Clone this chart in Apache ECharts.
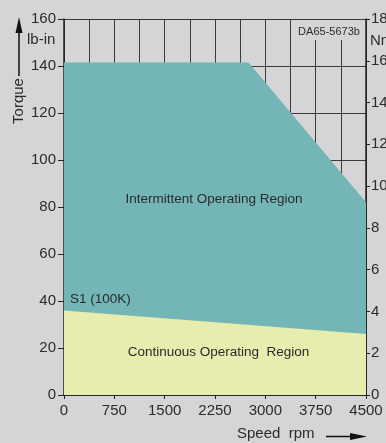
<!DOCTYPE html>
<html>
<head>
<meta charset="utf-8">
<script src="https://cdn.jsdelivr.net/npm/echarts@6/dist/echarts.min.js"></script>
<style>
  html, body { margin: 0; padding: 0; background: #d5d5d7; }
  #chart { width: 386px; height: 443px; }
</style>
</head>
<body>
<div id="chart"></div>
<script>
// Speed (rpm) / torque (lb-in) envelope of the drive
const intermittentSpeed = [0, 2750, 4500];
const intermittentTorque = [141.5, 141.5, 82];
const continuousSpeed = [0, 4500];
const continuousTorque = [36, 26];

// Axis ranges
const speedTicks = [0, 750, 1500, 2250, 3000, 3750, 4500];
const torqueTicksLbIn = [0, 20, 40, 60, 80, 100, 120, 140, 160];
const torqueTicksNm = [0, 2, 4, 6, 8, 10, 12, 14, 16, 18];

const FONT = '"Liberation Sans", Arial, sans-serif';
const TEXT = '#2b2b2b';
const BG = '#d5d5d7';

const pairs = (xs, ys) => xs.map((x, i) => [x, ys[i]]);

const chart = echarts.init(document.getElementById('chart'), null, { renderer: 'canvas' });

chart.setOption({
  backgroundColor: BG,
  animation: false,
  grid: { left: 64, right: 20, top: 19, bottom: 48, show: false, containLabel: false, outerBoundsMode: 'none' },
  xAxis: {
    type: 'value',
    min: speedTicks[0],
    max: speedTicks[speedTicks.length - 1],
    interval: speedTicks[1] - speedTicks[0],
    axisLine: { show: true, onZero: false, lineStyle: { color: '#222', width: 1.5 } },
    axisTick: { show: true, length: 4, lineStyle: { color: '#222' } },
    axisLabel: { color: TEXT, fontFamily: FONT, fontSize: 15, margin: 8, formatter: v => String(v) },
    splitLine: { show: true, lineStyle: { color: '#3a3a3a', width: 1 } },
    minorTick: { show: false, splitNumber: 2 },
    minorSplitLine: { show: true, lineStyle: { color: '#3a3a3a', width: 1 } }
  },
  yAxis: [
    {
      type: 'value',
      min: torqueTicksLbIn[0],
      max: torqueTicksLbIn[torqueTicksLbIn.length - 1],
      interval: torqueTicksLbIn[1] - torqueTicksLbIn[0],
      axisLine: { show: true, lineStyle: { color: '#222', width: 1.5 } },
      axisTick: { show: true, length: 6, lineStyle: { color: '#222' } },
      axisLabel: { color: TEXT, fontFamily: FONT, fontSize: 15, margin: 8, formatter: v => String(v) },
      splitLine: { show: true, lineStyle: { color: '#3a3a3a', width: 1 } }
    },
    {
      type: 'value',
      position: 'right',
      min: torqueTicksNm[0],
      max: torqueTicksNm[torqueTicksNm.length - 1],
      interval: torqueTicksNm[1] - torqueTicksNm[0],
      axisLine: { show: true, lineStyle: { color: '#222', width: 1.5 } },
      axisTick: { show: true, length: 4, lineStyle: { color: '#222' } },
      axisLabel: { color: TEXT, fontFamily: FONT, fontSize: 15, margin: 5, formatter: v => String(v) },
      splitLine: { show: false }
    }
  ],
  series: [
    {
      name: 'Intermittent',
      type: 'line',
      data: pairs(intermittentSpeed, intermittentTorque),
      symbol: 'none',
      lineStyle: { width: 0 },
      areaStyle: { color: '#74b5b6', opacity: 1 },
      z: 2
    },
    {
      name: 'Continuous',
      type: 'line',
      data: pairs(continuousSpeed, continuousTorque),
      symbol: 'none',
      lineStyle: { width: 0 },
      areaStyle: { color: '#e7edae', opacity: 1 },
      z: 3
    }
  ],
  graphic: [
    // drawing number box over the grid
    { type: 'rect', shape: { x: 293, y: 20, width: 72, height: 20 }, style: { fill: BG }, z: 5 },
    { type: 'text', x: 329, y: 32, style: { text: 'DA65-5673b', font: '11px ' + FONT, fill: TEXT, align: 'center', verticalAlign: 'middle' }, z: 6 },
    // units
    { type: 'text', x: 27, y: 40, style: { text: 'lb-in', font: '15px ' + FONT, fill: TEXT, align: 'left', verticalAlign: 'middle' }, z: 6 },
    { type: 'text', x: 370, y: 41, style: { text: 'Nm', font: '15px ' + FONT, fill: TEXT, align: 'left', verticalAlign: 'middle' }, z: 6 },
    // vertical axis title with arrow
    { type: 'text', x: 19, y: 101, rotation: Math.PI / 2, style: { text: 'Torque', font: '15px ' + FONT, fill: TEXT, align: 'center', verticalAlign: 'middle' }, z: 6 },
    { type: 'line', shape: { x1: 19, y1: 30, x2: 19, y2: 76 }, style: { stroke: '#111', lineWidth: 1.5 }, z: 6 },
    { type: 'polygon', shape: { points: [[19, 17], [15.5, 33], [22.5, 33]] }, style: { fill: '#111' }, z: 6 },
    // horizontal axis title with arrow
    { type: 'text', x: 237, y: 434, style: { text: 'Speed  rpm', font: '15px ' + FONT, fill: TEXT, align: 'left', verticalAlign: 'middle' }, z: 6 },
    { type: 'line', shape: { x1: 326, y1: 436.5, x2: 353, y2: 436.5 }, style: { stroke: '#111', lineWidth: 1.5 }, z: 6 },
    { type: 'polygon', shape: { points: [[367, 436.5], [350, 433], [350, 440]] }, style: { fill: '#111' }, z: 6 },
    // region labels
    { type: 'text', x: 214, y: 199, style: { text: 'Intermittent Operating Region', font: '13.5px ' + FONT, fill: TEXT, align: 'center', verticalAlign: 'middle' }, z: 6 },
    { type: 'text', x: 218.5, y: 352, style: { text: 'Continuous Operating  Region', font: '13.5px ' + FONT, fill: TEXT, align: 'center', verticalAlign: 'middle' }, z: 6 },
    { type: 'text', x: 70, y: 299, style: { text: 'S1 (100K)', font: '13.5px ' + FONT, fill: TEXT, align: 'left', verticalAlign: 'middle' }, z: 6 }
  ]
});
</script>
</body>
</html>
